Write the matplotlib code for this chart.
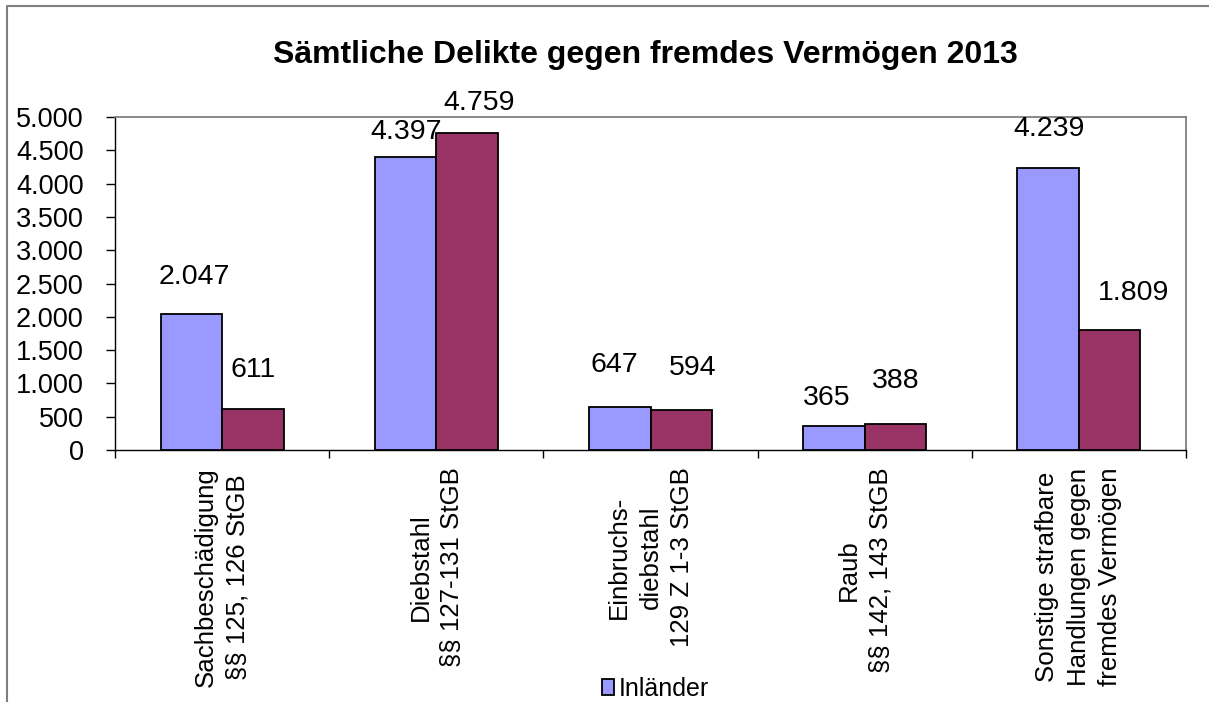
import matplotlib
matplotlib.use("Agg")
import matplotlib.pyplot as plt
from matplotlib.lines import Line2D
from matplotlib.patches import Patch
from matplotlib.ticker import FuncFormatter
import numpy as np

TITLE = "Sämtliche Delikte gegen fremdes Vermögen 2013"
CATEGORIES = [
    "Sachbeschädigung\n§§ 125, 126 StGB",
    "Diebstahl\n§§ 127-131 StGB",
    "Einbruchs-\ndiebstahl\n129 Z 1-3 StGB",
    "Raub\n§§ 142, 143 StGB",
    "Sonstige strafbare\nHandlungen gegen\nfremdes Vermögen",
]
INLAENDER = [2047, 4397, 647, 365, 4239]
AUSLAENDER = [611, 4759, 594, 388, 1809]
Y_TICKS = [0, 500, 1000, 1500, 2000, 2500, 3000, 3500, 4000, 4500, 5000]

# data label offsets (dx, dy) in pixels from the top centre of each bar
OFFSETS_IN = [(3, 37), (1, 25), (-5, 42), (-7, 28), (1, 39)]
OFFSETS_AUS = [(0, 39), (12, 30), (11, 42), (0, 43), (24, 37)]

BLUE = "#9999FF"
RED = "#993366"
FONT = "Liberation Sans"

W, H = 1209, 702


def thousands(v, _):
    return f"{int(v):,}".replace(",", ".")


def main() -> None:
    plt.rcParams["font.family"] = FONT
    fig = plt.figure(figsize=(W / 100, H / 100), dpi=100)
    ax = fig.add_axes([115 / W, 1 - 450 / H, (1186 - 115) / W, (450 - 117) / H])

    x = np.arange(len(CATEGORIES)) + 0.5
    bw = 0.287
    bars_in = ax.bar(x - bw / 2, INLAENDER, bw, color=BLUE, edgecolor="black", lw=1.3, zorder=3)
    bars_aus = ax.bar(x + bw / 2, AUSLAENDER, bw, color=RED, edgecolor="black", lw=1.3, zorder=3)

    for bars, vals, offs in [(bars_in, INLAENDER, OFFSETS_IN), (bars_aus, AUSLAENDER, OFFSETS_AUS)]:
        for b, v, (dx, dy) in zip(bars, vals, offs):
            ax.annotate(thousands(v, None), (b.get_x() + b.get_width() / 2, v),
                        xytext=(dx, dy), textcoords="offset pixels",
                        ha="center", va="center", fontsize=20.5, zorder=4)

    ax.set_xlim(0, len(CATEGORIES))
    ax.set_ylim(0, 5000)
    ax.set_yticks(Y_TICKS)
    ax.yaxis.set_major_formatter(FuncFormatter(thousands))
    ax.tick_params(axis="y", direction="out", length=6.5, width=1, pad=16, labelsize=19.5)

    ax.set_xticks(np.arange(len(CATEGORIES) + 1))
    ax.set_xticklabels([])
    ax.set_xticks(x, minor=True)
    ax.set_xticklabels(CATEGORIES, minor=True, rotation=90, ha="center", va="top",
                       multialignment="center", linespacing=1.4, fontsize=18.6)
    ax.tick_params(axis="x", which="major", direction="out", length=5.5, width=1)
    ax.tick_params(axis="x", which="minor", length=0, pad=12.5)

    for side in ("left", "bottom"):
        ax.spines[side].set_color("black")
        ax.spines[side].set_linewidth(1.0)
    for side in ("top", "right"):
        ax.spines[side].set_color("#808080")
        ax.spines[side].set_linewidth(1.3)

    fig.text(645 / W, 1 - 55 / H, TITLE, ha="center", va="center",
             fontsize=23, fontweight="bold")

    # legend (only the first entry is visible in the original, the rest is cut off)
    fig.legend(handles=[Patch(facecolor=BLUE, edgecolor="black", lw=1.3)],
               labels=["Inländer"], loc="upper left",
               bbox_to_anchor=(579 / W, 1 - 654 / H), fontsize=18,
               frameon=True, facecolor="white", edgecolor="none", framealpha=1,
               fancybox=False, borderpad=0.4, handlelength=0.5, handleheight=0.6,
               handletextpad=0.2)

    # outer chart border (top and left edges visible)
    fig.add_artist(Line2D([7 / W, 7 / W, 1], [0, 1 - 6 / H, 1 - 6 / H],
                          transform=fig.transFigure, color="#808080", lw=1.5))

    fig.savefig("out.png", dpi=100)


if __name__ == "__main__":
    main()
